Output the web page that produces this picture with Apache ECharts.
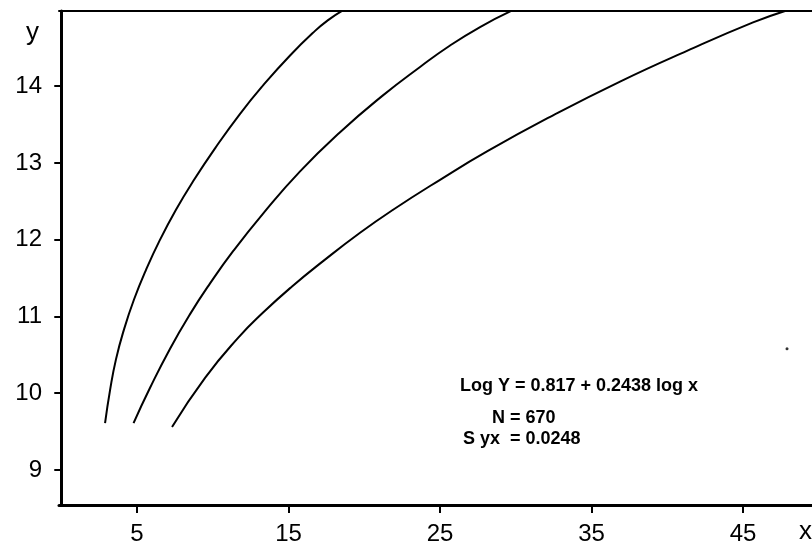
<!DOCTYPE html>
<html>
<head>
<meta charset="utf-8">
<script src="https://cdn.jsdelivr.net/npm/echarts@6/dist/echarts.min.js"></script>
<style>
  html, body { margin: 0; padding: 0; background: #fff; }
  #chart { width: 812px; height: 547px; }
</style>
</head>
<body>
<div id="chart"></div>
<script>
// tick labels
const xTicks = [5, 15, 25, 35, 45]
const yTicks = [9, 10, 11, 12, 13, 14]

// three curves, [x, y]
const curveA = [
  [2.89, 9.61], [3.22, 10.04], [3.61, 10.44], [4.14, 10.83], [4.80, 11.22],
  [5.60, 11.61], [6.52, 12.00], [7.57, 12.39], [8.70, 12.76], [10.15, 13.19],
  [11.80, 13.64], [13.32, 14.01], [15.10, 14.40], [16.75, 14.72], [17.61, 14.86],
  [18.53, 14.98]
]
const curveB = [
  [4.77, 9.61], [5.86, 10.07], [7.18, 10.58], [8.50, 11.03], [9.82, 11.43],
  [11.34, 11.85], [13.32, 12.34], [15.76, 12.89], [18.40, 13.40], [21.17, 13.87],
  [23.68, 14.25], [25.66, 14.53], [27.64, 14.77], [29.70, 14.98]
]
const curveC = [
  [7.31, 9.56], [9.49, 10.20], [11.67, 10.72], [13.32, 11.05], [15.23, 11.39],
  [17.28, 11.72], [19.72, 12.09], [21.90, 12.39], [25.00, 12.78], [28.10, 13.15],
  [32.46, 13.62], [36.88, 14.06], [41.30, 14.46], [45.66, 14.83], [47.77, 14.98]
]
const speck = [[47.9, 10.58]]

const font = 'Liberation Sans'
const chart = echarts.init(document.getElementById('chart'))

const lineSeries = (data) => ({
  type: 'line',
  data: data,
  smooth: 0.5,
  symbol: 'none',
  lineStyle: { color: '#000', width: 2 }
})

const note = (text, left, top) => ({
  type: 'text',
  left: left,
  top: top,
  style: { text: text, fill: '#000', font: 'bold 18px ' + font }
})

chart.setOption({
  backgroundColor: '#fff',
  animation: false,
  grid: { left: 59, right: 0, top: 11, bottom: 42 },
  xAxis: [
    {
      type: 'value',
      min: -0.15,
      max: 49.55,
      splitLine: { show: false },
      axisLine: { lineStyle: { color: '#000', width: 3 } },
      axisTick: { customValues: xTicks, length: 8, lineStyle: { color: '#000', width: 2 } },
      axisLabel: { customValues: xTicks, color: '#000', fontFamily: font, fontSize: 24, margin: 17 }
    },
    {
      // top border
      type: 'value',
      position: 'top',
      min: -0.15,
      max: 49.55,
      splitLine: { show: false },
      axisLine: { lineStyle: { color: '#000', width: 2 } },
      axisTick: { show: false },
      axisLabel: { show: false }
    }
  ],
  yAxis: {
    type: 'value',
    min: 8.543,
    max: 14.979,
    splitLine: { show: false },
    axisLine: { show: true, lineStyle: { color: '#000', width: 3 } },
    axisTick: { show: true, customValues: yTicks, length: 7, lineStyle: { color: '#000', width: 2 } },
    axisLabel: { customValues: yTicks, color: '#000', fontFamily: font, fontSize: 24, margin: 17 }
  },
  series: [
    lineSeries(curveA),
    lineSeries(curveB),
    lineSeries(curveC),
    {
      type: 'scatter',
      data: speck,
      symbolSize: 3,
      itemStyle: { color: '#000' }
    }
  ],
  graphic: [
    { type: 'text', left: 26, top: 20, style: { text: 'y', fill: '#000', font: '26px ' + font } },
    { type: 'text', left: 799, top: 519, style: { text: 'x', fill: '#000', font: '26px ' + font } },
    note('Log Y = 0.817 + 0.2438 log x', 460, 377),
    note('N', 492, 409),
    note('= 670', 510, 409),
    note('S yx', 463, 430),
    note('= 0.0248', 510, 430)
  ]
})
</script>
</body>
</html>
